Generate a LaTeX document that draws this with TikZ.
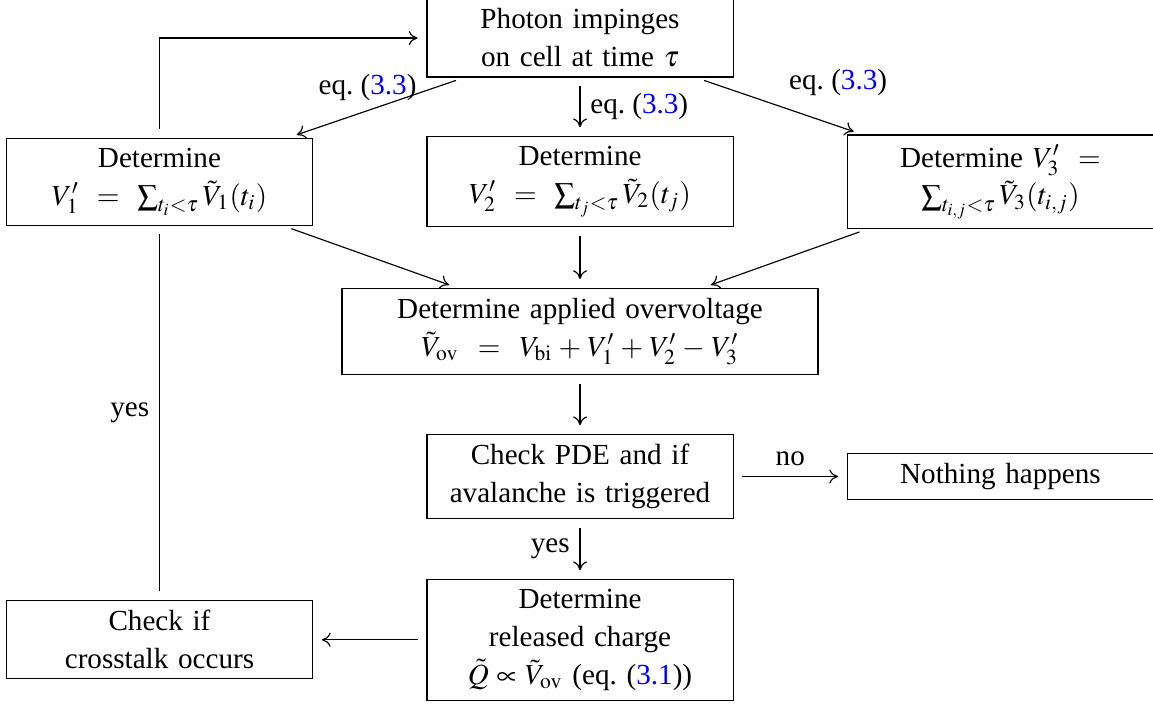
\documentclass[tikz,border=0pt]{standalone}
\usepackage{mathptmx}
\usepackage{fontspec}
\setmainfont{Liberation Serif}
\usetikzlibrary{arrows.meta}
\newcommand{\eqlab}[1]{eq.~(\textcolor{blue}{#1})}
\tikzset{
  wire/.style={black, line width=0.4pt, shorten <=3pt, shorten >=3pt},
  flow/.style={wire, -{To[length=3pt,width=4.8pt]}},
  stepbox/.style={draw=black, line width=0.4pt, fill=white,
                  text width=3.46cm, inner sep=3.33pt,
                  align=center, font=\fontsize{10}{13}\selectfont},
  widebox/.style={stepbox, text width=5.51cm},
  lab/.style={font=\fontsize{10}{13}\selectfont},
}

\begin{document}
\begin{tikzpicture}[x=1cm,y=1cm]
  \path[use as bounding box] (0,0) rectangle (13.911,8.518);

  \node[stepbox] (photon) at (6.998,8.059)
    {Photon impinges\\on cell at time $\tau$};

  \node[stepbox] (box1) at (1.924,6.326)
    {Determine\\$V_1'\ =\ \sum_{t_i<\tau}\tilde{V}_1(t_i)$};
  \node[stepbox] (box2) at (6.998,6.326)
    {Determine\\$V_2'\ =\ \sum_{t_j<\tau}\tilde{V}_2(t_j)$};
  \node[stepbox] (box3) at (12.071,6.326)
    {Determine $V_3'\ =$\\$\sum_{t_{i,j}<\tau}\tilde{V}_3(t_{i,j})$};

  \node[widebox] (over) at (6.998,4.518)
    {Determine applied overvoltage\\$\tilde{V}_{\mathrm{ov}}\ =\ V_{\mathrm{bi}}+V_1'+V_2'-V_3'$};

  \node[stepbox] (check) at (6.998,2.769)
    {Check PDE and if\\avalanche is triggered};
  \node[stepbox] (nothing) at (12.071,2.769)
    {Nothing happens};

  \node[stepbox] (released) at (6.998,0.799)
    {Determine\\released charge\\$\tilde{Q}\propto\tilde{V}_{\mathrm{ov}}$ (\eqlab{3.1})};
  \node[stepbox] (crosstalk) at (1.924,0.799)
    {Check if\\crosstalk occurs};

  \draw[flow] (photon) -- node[lab, above, pos=0.55] {\eqlab{3.3}} (box1);
  \draw[flow] (photon) -- node[lab, right] {\eqlab{3.3}} (box2);
  \draw[flow] (photon) -- node[lab, above right] {\eqlab{3.3}} (box3);
  \draw[flow] (box1) -- (over);
  \draw[flow] (box2) -- (over);
  \draw[flow] (box3) -- (over);
  \draw[flow] (over) -- (check);
  \draw[flow] (check) -- node[lab, above] {no} (nothing);
  \draw[flow] (check) -- node[lab, left] {yes} (released);
  \draw[flow] (released) -- (crosstalk);
  \draw[wire] (crosstalk) -- node[lab, left] {yes} (box1);
  \draw[flow] (box1) |- (photon);
\end{tikzpicture}
\end{document}
